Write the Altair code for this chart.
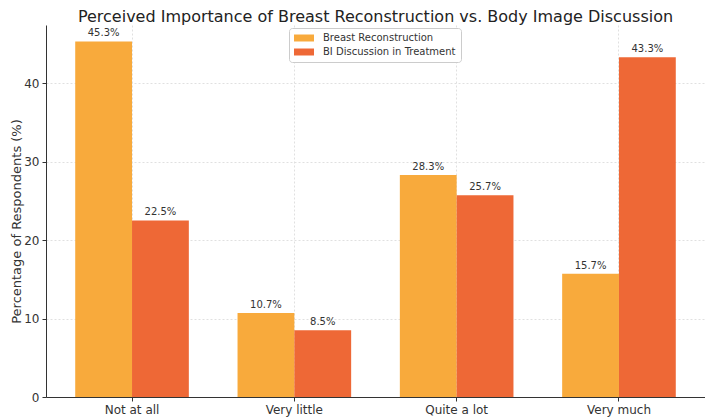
import altair as alt
import pandas as pd

categories = ["Not at all", "Very little", "Quite a lot", "Very much"]
series = ["Breast Reconstruction", "BI Discussion in Treatment"]
breast_reconstruction = [45.3, 10.7, 28.3, 15.7]
bi_discussion = [22.5, 8.5, 25.7, 43.3]
colors = ["#F8AA3C", "#EE6836"]

rows = []
for i, c in enumerate(categories):
    rows.append({"Category": c, "Series": series[0], "Value": breast_reconstruction[i]})
    rows.append({"Category": c, "Series": series[1], "Value": bi_discussion[i]})
df = pd.DataFrame(rows)
df["Label"] = df["Value"].map(lambda v: f"{v:.1f}%")

FONT = "DejaVu Sans"

x = alt.X("Category:N", sort=categories, title=None,
          scale=alt.Scale(paddingInner=0.3, paddingOuter=0.18),
          axis=alt.Axis(labelAngle=0, labelFontSize=12, labelColor="#333",
                        labelFont=FONT, grid=True, gridDash=[2, 2],
                        gridColor="#e0e0e0", tickSize=4, tickColor="#333",
                        domainColor="#333", labelPadding=3))
xoff = alt.XOffset("Series:N", sort=series, scale=alt.Scale(paddingInner=0, paddingOuter=0))
y = alt.Y("Value:Q", title="Percentage of Respondents (%)",
          scale=alt.Scale(domain=[0, 47.4], nice=False),
          axis=alt.Axis(values=[0, 10, 20, 30, 40], labelFontSize=12, labelColor="#333",
                        labelFont=FONT, titleFont=FONT, titleFontSize=13,
                        titleFontWeight="normal", titleColor="#333",
                        titleAngle=-90, titleX=-30, titleY=196, titleAlign="center",
                        titleBaseline="middle",
                        grid=True, gridDash=[2, 2], gridColor="#e0e0e0",
                        tickSize=4, tickColor="#333", domainColor="#333",
                        labelPadding=3))

color = alt.Color("Series:N", sort=series,
                  scale=alt.Scale(domain=series, range=colors),
                  legend=alt.Legend(title=None, orient="none", legendX=243, legendY=3,
                                    direction="vertical",
                                    symbolType="M-2,-0.7H2V0.7H-2Z", symbolSize=100,
                                    symbolStrokeWidth=0, labelFontSize=10,
                                    labelFont=FONT, labelColor="#333",
                                    fillColor="white", strokeColor="#cccccc",
                                    cornerRadius=3, padding=5, rowPadding=4,
                                    symbolOffset=5, labelOffset=14))

bars = alt.Chart(df).mark_bar().encode(x=x, xOffset=xoff, y=y, color=color)
text = alt.Chart(df).mark_text(baseline="bottom", dy=-3, fontSize=10, font=FONT,
                               color="#333").encode(
    x=alt.X("Category:N", sort=categories), xOffset=alt.XOffset("Series:N", sort=series),
    y="Value:Q", text="Label:N")

chart = (bars + text).properties(
    width=659, height=372,
    title=alt.TitleParams("Perceived Importance of Breast Reconstruction vs. Body Image Discussion",
                          fontSize=16, font=FONT, fontWeight="normal", color="#222",
                          anchor="middle", offset=0),
    autosize=alt.AutoSizeParams(type="none"),
    padding={"left": 38, "top": 17, "right": 0, "bottom": 22},
).configure_view(stroke=None)

chart.save("out.html", embed_options={"renderer": "svg", "actions": False})
